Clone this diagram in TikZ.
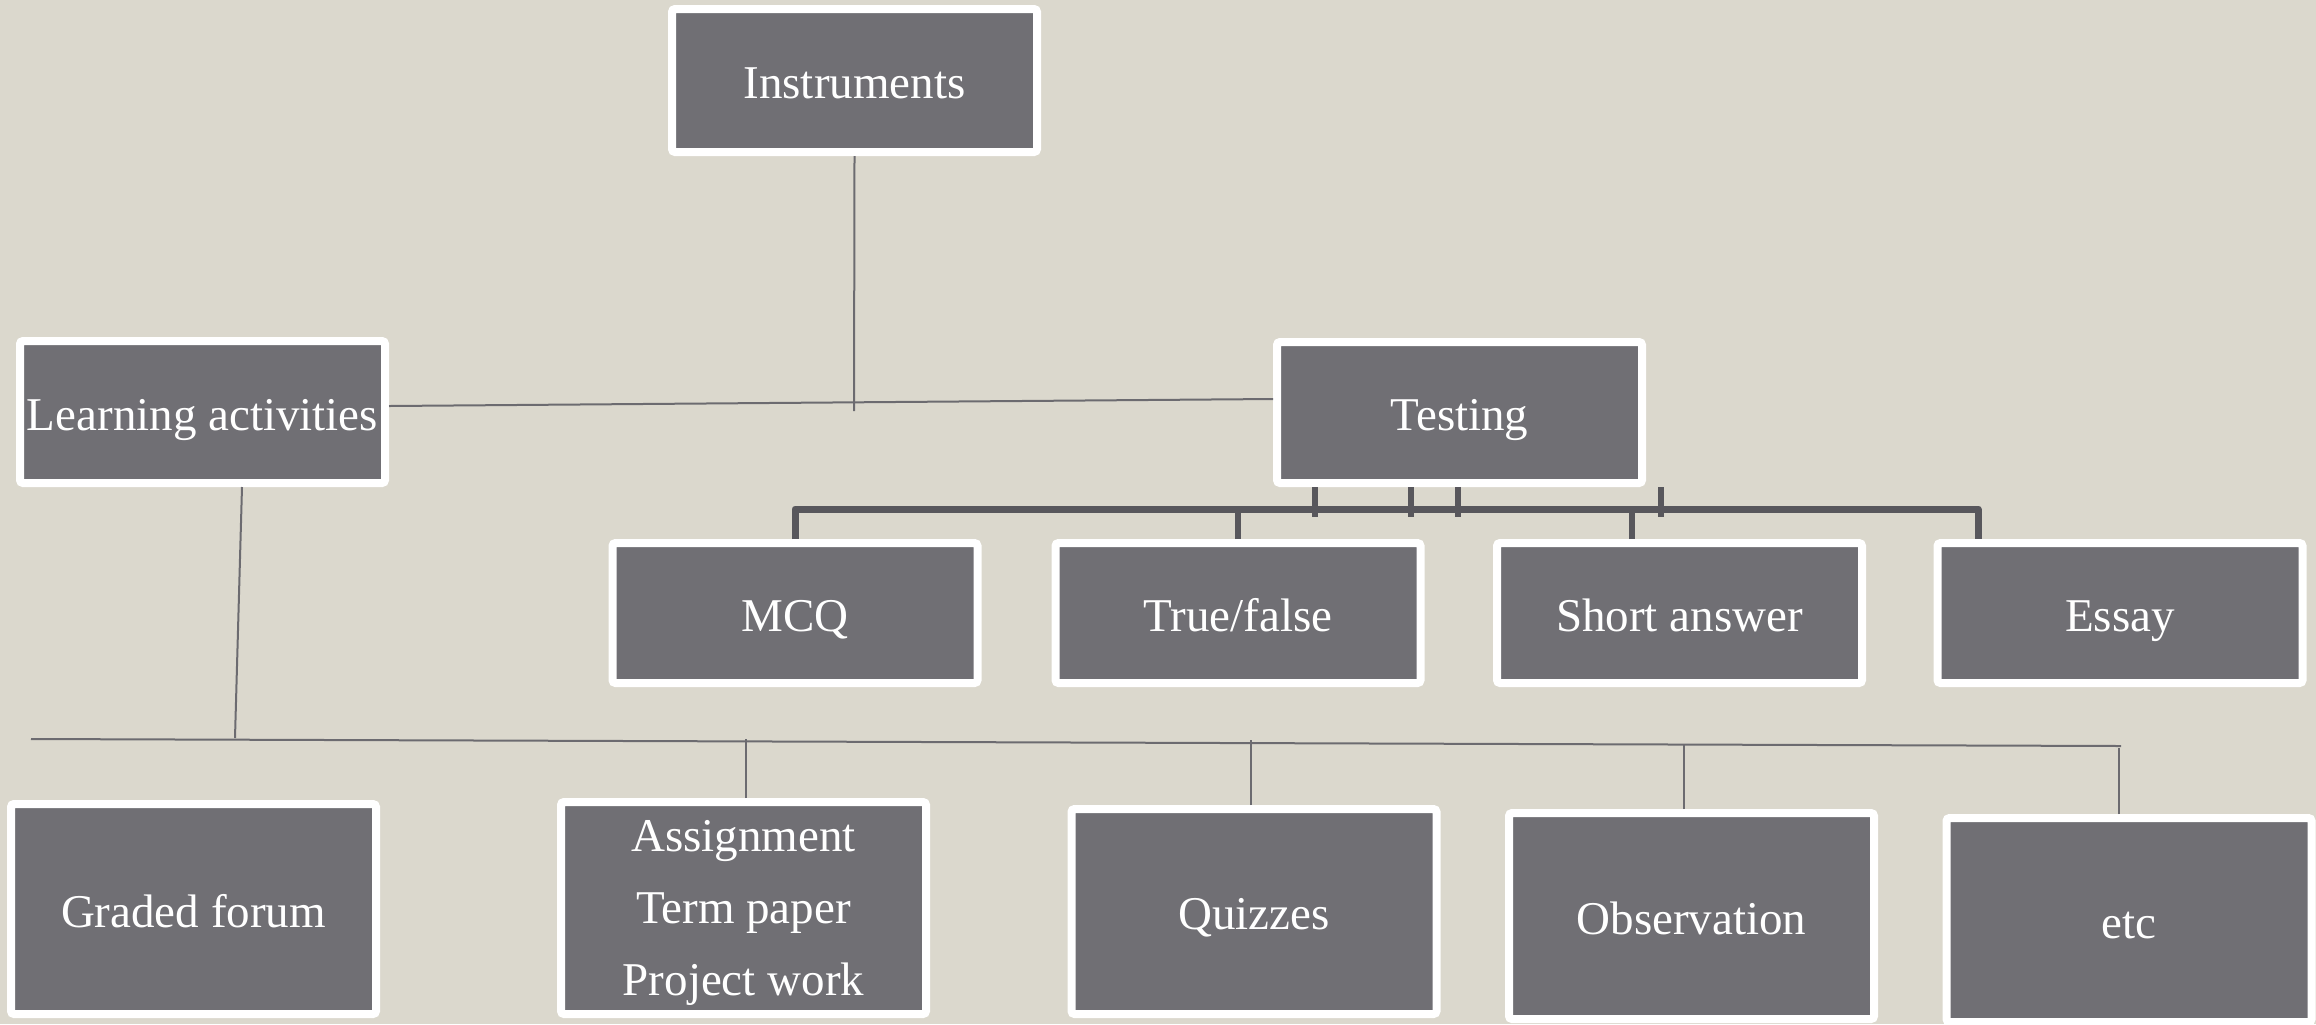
\documentclass[tikz,border=0pt]{standalone}
\usepackage{fontspec}
\setmainfont{Liberation Serif}
\definecolor{bg}{HTML}{DBD8CD}
\definecolor{boxgray}{HTML}{706F74}
\definecolor{thinline}{HTML}{6C6B70}
\definecolor{barline}{HTML}{58575C}
\begin{document}
\begin{tikzpicture}[x=0.5pt,y=-0.5pt,
  box/.style={draw=white, line width=4pt, fill=boxgray, rounded corners=1.5pt,
    text=white, inner sep=0pt, minimum width=182.5pt, align=center,
    font=\fontsize{23.5}{36}\selectfont},
  one/.style={box, text height=24pt, text depth=6pt},
  thin/.style={draw=thinline, line width=1pt},
  bar/.style={draw=barline, line width=3.5pt, line join=round},
  stub/.style={draw=barline, line width=3pt}]
\fill[bg] (0,0) rectangle (2316,1024);
\useasboundingbox (0,0) rectangle (2316,1024);
% nodes
\node[one, minimum height=71.5pt] (ins) at (854.5,80.5) {Instruments};
\node[one, minimum height=71pt] (la) at (202.5,412) {Learning activities};
\node[one, minimum height=70.5pt] (test) at (1459.5,412.5) {Testing};
\node[one, minimum height=70pt] (mcq) at (795,613) {MCQ};
\node[one, minimum height=70pt] (tf) at (1238,613) {True/false};
\node[one, minimum height=70pt] (sa) at (1679.5,613) {Short answer};
\node[one, minimum height=70pt] (essay) at (2120,613) {Essay};
\node[one, minimum height=105pt] (gf) at (193.5,909) {Graded forum};
\node[box, minimum height=106pt, text height=93pt, text depth=5.5pt] (asg) at (743.5,908) {Assignment\\Term paper\\Project work};
\node[one, minimum height=102.5pt] (quiz) at (1254,911.5) {Quizzes};
\node[one, minimum height=103pt] (obs) at (1691.5,916) {Observation};
\node[one, minimum height=102pt] (etc) at (2129,920) {etc};
% thin connectors
\coordinate (insEnd) at (854,411);
\coordinate (hl) at (31,739);
\coordinate (hr) at (2121,746);
\coordinate (laEnd) at (235,738);
\draw[thin] (ins.south) -- (insEnd);
\draw[thin] ([yshift=3pt]la.east) -- ([yshift=6.75pt]test.west);
\draw[thin] ([xshift=19.75pt]la.south) -- (laEnd);
\draw[thin] (hl) -- (hr);
\draw[thin] ([xshift=1.25pt]asg.north) -- ++(0,-59);
\draw[thin] ([xshift=-1.5pt]quiz.north) -- ++(0,-65);
\draw[thin] ([xshift=-3.75pt]obs.north) -- ++(0,-65);
\draw[thin] ([xshift=-5pt]etc.north) -- ++(0,-66);
% thick bracket under Testing
\draw[bar] (mcq.north) -- ++(0,-30) -| ([xshift=-71pt]essay.north);
\draw[stub] (tf.north) -- ++(0,-30);
\draw[stub] ([xshift=-23.75pt]sa.north) -- ++(0,-30);
\draw[stub] ([xshift=-72.25pt]test.south) -- ++(0,30);
\draw[stub] ([xshift=-24.25pt]test.south) -- ++(0,30);
\draw[stub] ([xshift=-0.75pt]test.south) -- ++(0,30);
\draw[stub] ([xshift=100.75pt]test.south) -- ++(0,30);
\end{tikzpicture}
\end{document}
